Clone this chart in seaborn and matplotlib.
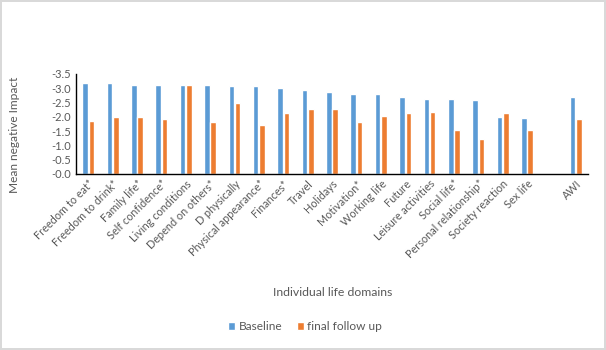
"""
Mean negative impact per life domain: baseline vs. final follow up.
"""

import pandas as pd
import matplotlib
matplotlib.use("Agg")
import matplotlib.pyplot as plt
from matplotlib.ticker import FuncFormatter, MultipleLocator
import seaborn as sns

DOMAINS = [
    "Freedom to eat*", "Freedom to drink*", "Family life*", "Self confidence*",
    "Living conditions", "Depend on others*", "D physically", "Physical appearance*",
    "Finances*", "Travel", "Holidays", "Motivation*", "Working life", "Future",
    "Leisure activities", "Social life*", "Personal relationship*",
    "Society reaction", "Sex life", "AWI",
]
BASELINE = [
    -3.19, -3.19, -3.12, -3.12, -3.12, -3.12, -3.09, -3.09, -3.02, -2.95,
    -2.87, -2.80, -2.80, -2.70, -2.63, -2.63, -2.59, -1.99, -1.95, -2.70,
]
FOLLOW_UP = [
    -1.85, -1.99, -1.99, -1.92, -3.12, -1.81, -2.48, -1.71, -2.13, -2.27,
    -2.27, -1.81, -2.03, -2.13, -2.17, -1.53, -1.21, -2.13, -1.53, -1.92,
]
SERIES = ["Baseline", "final follow up"]
COLORS = ["#5B9BD5", "#ED7D31"]
TEXT_COLOR = "#595959"

sns.set_theme(style="white")
plt.rcParams["font.family"] = ["Lato", "DejaVu Sans"]

df = pd.DataFrame({
    "domain": DOMAINS * 2,
    "series": [SERIES[0]] * len(DOMAINS) + [SERIES[1]] * len(DOMAINS),
    "impact": BASELINE + FOLLOW_UP,
})
# leere Position zwischen "Sex life" und "AWI"
order = DOMAINS[:-1] + [" "] + DOMAINS[-1:]

fig = plt.figure(figsize=(6.06, 3.5), dpi=100)
fig.patch.set_facecolor("white")
fig.patch.set_edgecolor("#D9D9D9")
fig.patch.set_linewidth(1.5)
ax = fig.add_axes([76 / 606, 1 - 174 / 350, 512 / 606, 100 / 350])

sns.barplot(
    data=df, x="domain", y="impact", hue="series", order=order,
    hue_order=SERIES, palette=COLORS, width=0.52, gap=0.12,
    saturation=1, ax=ax,
)

ax.set_ylim(0, -3.5)
ax.yaxis.set_major_locator(MultipleLocator(0.5))
ax.yaxis.set_major_formatter(FuncFormatter(lambda v, _: f"-{abs(v):.1f}"))
ax.tick_params(axis="both", length=0, colors=TEXT_COLOR, labelsize=8)
ax.tick_params(axis="x", pad=3, labelsize=7.8)
ax.set_xticks(range(len(order)))
ax.set_xticklabels(order, rotation=45, ha="right", rotation_mode="anchor")

for side in ["top", "right"]:
    ax.spines[side].set_visible(False)
for side in ["left", "bottom"]:
    ax.spines[side].set_color("black")
    ax.spines[side].set_linewidth(1.0)

ax.set_xlabel("")
ax.set_ylabel("Mean negative Impact", fontsize=8.6, color=TEXT_COLOR)
ax.yaxis.set_label_coords(-0.109, 0.39)

fig.text(333 / 606, 1 - 292 / 350, "Individual life domains",
         ha="center", va="center", fontsize=8.8, color=TEXT_COLOR)

handles, labels = ax.get_legend_handles_labels()
ax.legend_.remove()
fig.legend(
    handles, labels, loc="center", bbox_to_anchor=(305 / 606, 1 - 327 / 350),
    ncol=2, frameon=False, fontsize=8.6, labelcolor=TEXT_COLOR,
    handlelength=0.6, handleheight=0.6, handletextpad=0.3, columnspacing=1.2,
)

fig.savefig("out.png", dpi=100, facecolor=fig.get_facecolor(),
            edgecolor=fig.get_edgecolor())
plt.close(fig)
